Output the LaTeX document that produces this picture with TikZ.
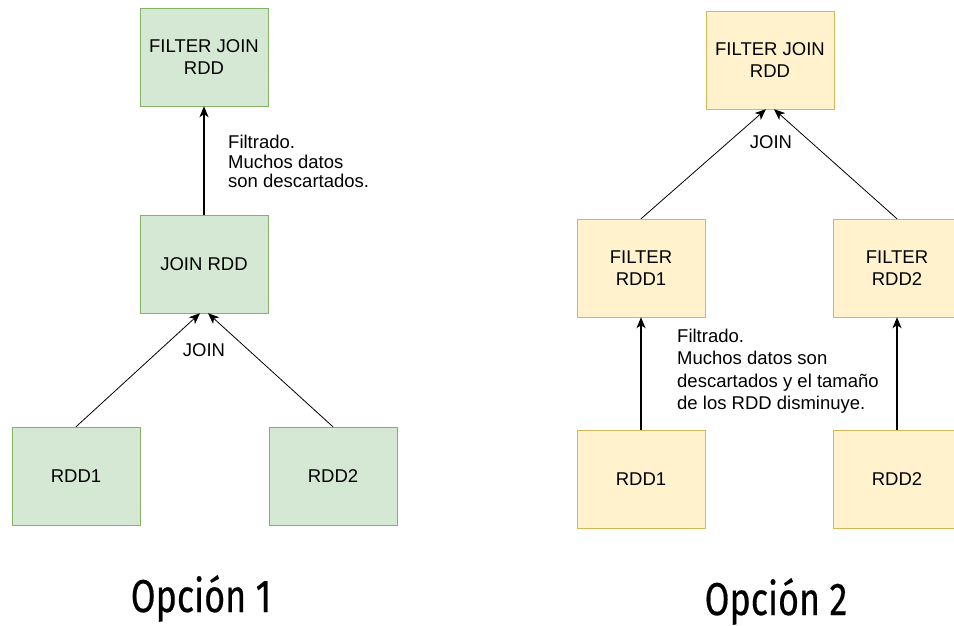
\documentclass[tikz,border=0pt]{standalone}
\usepackage{fontspec}
\setmainfont{Liberation Sans}
\newfontfamily\titlefont{Fira Sans}[FakeStretch=0.78, FakeBold=0.4]
\usetikzlibrary{arrows.meta,positioning}
\definecolor{joingreen}{HTML}{D5E8D4}
\definecolor{joingreenline}{HTML}{82B366}
\definecolor{filteryellow}{HTML}{FFF2CC}
\definecolor{filteryellowline}{HTML}{D6B656}

\begin{document}
\begin{tikzpicture}[x=1pt, y=-1pt,
    greenbox/.style={rectangle, draw=joingreenline, fill=joingreen, minimum width=128pt, minimum height=98pt, inner sep=0pt, align=center, font=\fontsize{18.5}{21.5}\selectfont},
    yellowbox/.style={greenbox, draw=filteryellowline, fill=filteryellow},
    note/.style={anchor=north west, inner sep=0pt, align=left},
    link/.style={-{Stealth[length=11pt, width=9pt, inset=3pt]}, line width=0.8pt},
    optlabel/.style={anchor=base, font=\titlefont\fontsize{46}{46}\selectfont}]

    \useasboundingbox (0,0) rectangle (954,626);

    % Option 1
    \node[greenbox] (fjoina) at (204,57) {FILTER JOIN\\RDD};
    \node[greenbox] (joina) at (204,264) {JOIN RDD};
    \node[greenbox] (rdda1) at (76,476) {RDD1};
    \node[greenbox] (rdda2) at (333,476) {RDD2};

    \draw[link, line width=1.3pt] (joina) -- (fjoina);
    \draw[link] (rdda1.north) -- ([xshift=-4pt]joina.south);
    \draw[link] (rdda2.north) -- ([xshift=4pt]joina.south);

    \node (joinlabela) at (204,350) {\fontsize{18.5}{21.5}\selectfont JOIN};
    \node[note, font=\fontsize{18.5}{19.5}\selectfont] (notea) at (228,135) {Filtrado.\\Muchos datos\\son descartados.};
    \node[optlabel] (opta) at (201,612) {Opción 1};

    % Option 2
    \node[yellowbox] (fjoinb) at (770,60) {FILTER JOIN\\RDD};
    \node[yellowbox] (filterb1) at (641,268) {FILTER\\RDD1};
    \node[yellowbox] (filterb2) at (897,268) {FILTER\\RDD2};
    \node[yellowbox] (rddb1) at (641,479) {RDD1};
    \node[yellowbox] (rddb2) at (897,479) {RDD2};

    \draw[link, line width=1.3pt] (rddb1) -- (filterb1);
    \draw[link, line width=1.3pt] (rddb2) -- (filterb2);
    \draw[link] (filterb1.north) -- ([xshift=-4pt]fjoinb.south);
    \draw[link] (filterb2.north) -- ([xshift=4pt]fjoinb.south);

    \node (joinlabelb) at (771,142) {\fontsize{18.5}{21.5}\selectfont JOIN};
    \node[note, font=\fontsize{18.5}{22.3}\selectfont] (noteb) at (677,329) {Filtrado.\\Muchos datos son\\descartados y el tamaño\\de los RDD disminuye.};
    \node[optlabel] (optb) at (776,615) {Opción 2};
\end{tikzpicture}
\end{document}
